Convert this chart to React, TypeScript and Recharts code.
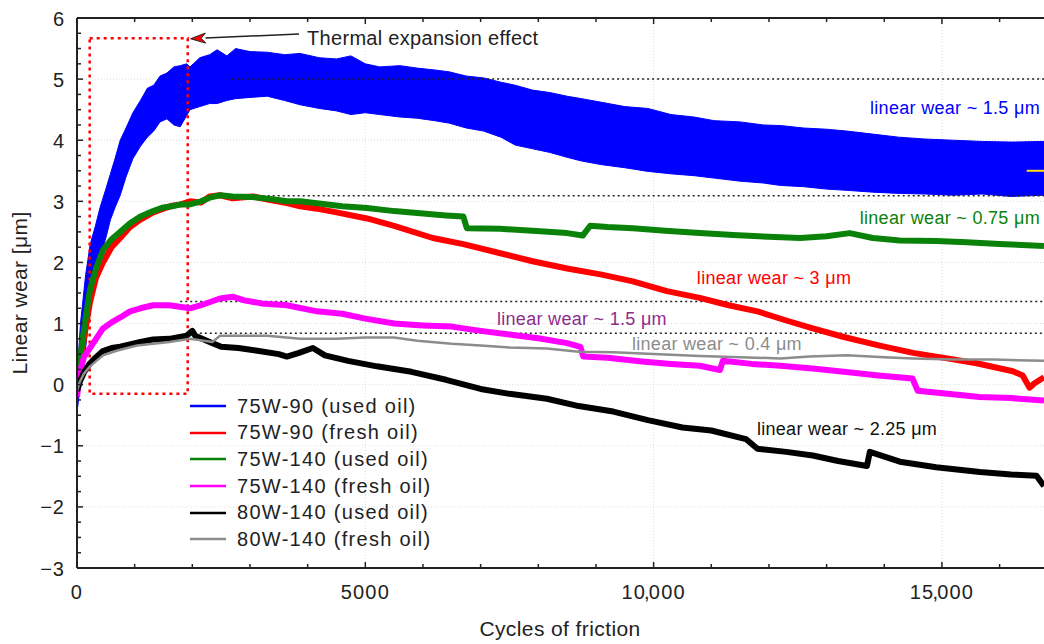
import {
  ComposedChart, Line, Area, XAxis, YAxis, CartesianGrid, Legend,
  ReferenceLine, ReferenceArea, ReferenceDot,
} from 'recharts';

const FONT = '"Liberation Sans", Arial, sans-serif';
const INK = '#222';
const PLOT_H = 550;

// axes
const xMajorTicks = [0, 5000, 10000, 15000];
const xTicks = [0, 1000, 2000, 3000, 4000, 5000, 6000, 7000, 8000, 9000, 10000, 11000, 12000, 13000, 14000, 15000, 16000];
const yMajorTicks = [-3, -2, -1, 0, 1, 2, 3, 4, 5, 6];
const yTicks = [
  -3, -2.75, -2.5, -2.25, -2, -1.75, -1.5, -1.25, -1, -0.75, -0.5, -0.25,
  0, 0.25, 0.5, 0.75, 1, 1.25, 1.5, 1.75, 2, 2.25, 2.5, 2.75,
  3, 3.25, 3.5, 3.75, 4, 4.25, 4.5, 4.75, 5, 5.25, 5.5, 5.75, 6,
];

const seriesNames = [
  '75W-90 (used oil)', '75W-90 (fresh oil)', '75W-140 (used oil)',
  '75W-140 (fresh oil)', '80W-140 (used oil)', '80W-140 (fresh oil)',
];
const seriesColors = ['#0000ff', '#ff0000', '#0a820a', '#ff00ff', '#000000', '#8c8c8c'];

// 75W-90 used oil: wide oscillating band, lower and upper envelope
const blueCycles = [0, 60, 150, 230, 320, 400, 500, 580, 660, 750, 850, 970, 1100, 1220, 1330, 1440, 1560, 1680, 1790, 1900, 1960, 2130, 2300, 2430, 2600, 2750, 3000, 3300, 3600, 3870, 4200, 4500, 4750, 5000, 5250, 5600, 5900, 6200, 6450, 6750, 7050, 7350, 7600, 7900, 8200, 8500, 8750, 9100, 9500, 9900, 10300, 10700, 11050, 11500, 11900, 12200, 12600, 13000, 13350, 13800, 14250, 14700, 15200, 15700, 16200, 16770];
const blueLow = [-0.45, 0.0, 0.6, 1.3, 1.7, 2.1, 2.4, 2.7, 2.9, 3.1, 3.4, 3.7, 3.9, 4.05, 4.15, 4.3, 4.35, 4.25, 4.22, 4.4, 4.5, 4.55, 4.6, 4.6, 4.65, 4.68, 4.7, 4.72, 4.65, 4.58, 4.52, 4.48, 4.42, 4.45, 4.42, 4.38, 4.36, 4.32, 4.28, 4.2, 4.15, 4.05, 3.92, 3.86, 3.8, 3.72, 3.66, 3.6, 3.55, 3.49, 3.45, 3.42, 3.38, 3.33, 3.3, 3.26, 3.24, 3.2, 3.18, 3.15, 3.13, 3.12, 3.1, 3.12, 3.08, 3.1];
const blueHigh = [0.1, 1.0, 1.8, 2.3, 2.6, 2.9, 3.2, 3.45, 3.7, 4.0, 4.2, 4.45, 4.65, 4.85, 4.9, 5.05, 5.1, 5.2, 5.22, 5.25, 5.2, 5.35, 5.4, 5.48, 5.38, 5.5, 5.45, 5.44, 5.4, 5.42, 5.35, 5.33, 5.38, 5.25, 5.2, 5.22, 5.18, 5.15, 5.12, 5.05, 5.02, 4.95, 4.9, 4.82, 4.78, 4.72, 4.68, 4.62, 4.55, 4.52, 4.42, 4.38, 4.32, 4.3, 4.25, 4.24, 4.2, 4.18, 4.15, 4.1, 4.05, 4.02, 4.0, 3.98, 3.97, 3.98];

// 75W-90 fresh oil
const redCycles = [0, 50, 120, 225, 330, 450, 600, 750, 920, 1100, 1320, 1500, 1650, 1800, 1960, 2150, 2300, 2480, 2700, 3050, 3350, 3640, 3870, 4160, 4500, 5030, 5500, 6170, 6700, 7340, 7900, 8500, 9100, 9640, 10230, 10800, 11300, 11800, 12300, 12760, 13300, 13920, 14500, 15090, 15600, 16230, 16400, 16520, 16600, 16770];
const redWear = [0.0, 0.3, 0.75, 1.35, 1.75, 2.0, 2.25, 2.4, 2.58, 2.7, 2.82, 2.88, 2.93, 2.95, 3.0, 2.98, 3.08, 3.1, 3.05, 3.08, 3.02, 2.97, 2.92, 2.88, 2.82, 2.72, 2.6, 2.4, 2.3, 2.15, 2.02, 1.9, 1.8, 1.69, 1.53, 1.42, 1.3, 1.2, 1.05, 0.92, 0.78, 0.64, 0.52, 0.43, 0.35, 0.22, 0.15, -0.05, 0.02, 0.12];

// 75W-140 used oil
const greenCycles = [0, 50, 120, 225, 330, 450, 600, 750, 920, 1100, 1320, 1500, 1650, 1800, 1960, 2150, 2300, 2480, 2700, 3050, 3350, 3640, 3870, 4160, 4600, 5030, 5500, 6000, 6400, 6700, 6760, 7340, 7900, 8500, 8770, 8900, 9200, 9640, 10200, 10800, 11380, 12000, 12540, 13000, 13400, 13800, 14270, 14900, 15430, 16000, 16770];
const greenWear = [0.0, 0.4, 0.9, 1.55, 1.9, 2.2, 2.38, 2.5, 2.64, 2.75, 2.84, 2.9, 2.92, 2.95, 2.95, 3.0, 3.06, 3.1, 3.08, 3.07, 3.04, 3.0, 3.0, 2.97, 2.92, 2.89, 2.84, 2.8, 2.77, 2.75, 2.56, 2.55, 2.52, 2.48, 2.44, 2.6, 2.58, 2.56, 2.52, 2.48, 2.45, 2.42, 2.4, 2.43, 2.48, 2.4, 2.36, 2.35, 2.33, 2.3, 2.27];

// 75W-140 fresh oil
const magentaCycles = [0, 50, 120, 225, 330, 450, 600, 750, 920, 1100, 1320, 1600, 1960, 2150, 2480, 2700, 2900, 3200, 3640, 4160, 4600, 5000, 5500, 6000, 6500, 7000, 7500, 8000, 8500, 8730, 8780, 9200, 9800, 10300, 10800, 11150, 11200, 11700, 12200, 12800, 13300, 13900, 14490, 14580, 15100, 15650, 16200, 16770];
const magentaWear = [-0.2, 0.2, 0.45, 0.6, 0.75, 0.92, 1.02, 1.1, 1.2, 1.25, 1.3, 1.3, 1.25, 1.3, 1.41, 1.44, 1.38, 1.33, 1.3, 1.2, 1.16, 1.08, 1.0, 0.97, 0.95, 0.88, 0.82, 0.76, 0.68, 0.62, 0.46, 0.44, 0.38, 0.34, 0.31, 0.24, 0.39, 0.34, 0.31, 0.26, 0.21, 0.15, 0.1, -0.1, -0.15, -0.2, -0.22, -0.26];

// 80W-140 used oil
const blackCycles = [0, 50, 120, 225, 330, 450, 600, 750, 920, 1100, 1320, 1600, 1900, 2000, 2050, 2300, 2500, 2800, 3100, 3500, 3640, 3850, 4090, 4300, 4700, 5200, 5800, 6400, 7000, 7500, 8150, 8700, 9300, 9900, 10500, 11000, 11600, 11800, 12300, 12760, 13200, 13700, 13750, 14270, 14900, 15660, 16200, 16640, 16770];
const blackWear = [-0.1, 0.05, 0.2, 0.35, 0.45, 0.55, 0.6, 0.62, 0.66, 0.7, 0.74, 0.75, 0.8, 0.88, 0.8, 0.7, 0.62, 0.6, 0.56, 0.5, 0.46, 0.52, 0.6, 0.48, 0.39, 0.3, 0.21, 0.08, -0.07, -0.15, -0.23, -0.35, -0.44, -0.58, -0.7, -0.75, -0.89, -1.05, -1.1, -1.16, -1.25, -1.33, -1.1, -1.26, -1.35, -1.43, -1.47, -1.49, -1.66];

// 80W-140 fresh oil
const grayCycles = [0, 50, 120, 225, 450, 700, 1040, 1600, 1960, 2350, 2480, 3300, 3870, 4500, 5000, 5500, 5900, 6500, 7000, 7500, 8150, 8700, 9300, 10000, 10800, 11500, 12200, 12700, 13350, 14000, 14500, 15200, 15900, 16770];
const grayWear = [-0.1, 0.05, 0.18, 0.3, 0.48, 0.56, 0.64, 0.7, 0.75, 0.7, 0.8, 0.8, 0.75, 0.75, 0.77, 0.77, 0.72, 0.67, 0.64, 0.61, 0.59, 0.54, 0.53, 0.5, 0.47, 0.45, 0.43, 0.46, 0.48, 0.45, 0.43, 0.41, 0.41, 0.39];

// dotted wear levels: level and cycle where it starts
const levelValues = [5.0, 3.09, 1.36, 0.84];
const levelStarts = [2690, 2700, 1790, 2130];

const notes = [
  { text: 'linear wear ~ 1.5 μm', x: 16700, y: 4.52, color: '#0000ff', anchor: 'end' },
  { text: 'linear wear ~ 0.75 μm', x: 16700, y: 2.72, color: '#0a820a', anchor: 'end' },
  { text: 'linear wear ~ 3 μm', x: 10750, y: 1.74, color: '#ff0000', anchor: 'start' },
  { text: 'linear wear ~ 1.5 μm', x: 7283, y: 1.08, color: '#8e2c8e', anchor: 'start' },
  { text: 'linear wear ~ 0.4 μm', x: 9624, y: 0.67, color: '#8c8c8c', anchor: 'start' },
  { text: 'linear wear ~ 2.25 μm', x: 11791, y: -0.72, color: '#111', anchor: 'start' },
];

const toPoints = (cycles: number[], wear: number[]) => cycles.map((c, i) => ({ c, w: wear[i] }));
const blueData = blueCycles.map((c, i) => ({ c, band: [blueLow[i], blueHigh[i]] }));
const lineData = [
  toPoints(redCycles, redWear),
  toPoints(greenCycles, greenWear),
  toPoints(magentaCycles, magentaWear),
  toPoints(blackCycles, blackWear),
  toPoints(grayCycles, grayWear),
];
const lineWidths = [6, 6, 6, 6, 2.5];

const fmtY = (v: number) => (v < 0 ? `\u2212${-v}` : `${v}`);

function XTick(props: any) {
  const { x, y, payload } = props;
  const major = xMajorTicks.includes(payload.value);
  const len = major ? 6 : 4;
  let label: any = null;
  if (major) {
    const v = payload.value;
    label = v >= 10000 ? (
      <>
        <tspan>{String(Math.floor(v / 1000))}</tspan>
        <tspan dx={-2}>,</tspan>
        <tspan dx={-2}>000</tspan>
      </>
    ) : String(v);
  }
  return (
    <g>
      <line x1={x} y1={y} x2={x} y2={y - len} stroke={INK} strokeWidth={1.5} />
      <line x1={x} y1={y - PLOT_H} x2={x} y2={y - PLOT_H + len} stroke={INK} strokeWidth={1.5} />
      {major && (
        <text x={x} y={y + 31} textAnchor="middle" fontSize={20} letterSpacing={1.2} fill={INK} fontFamily={FONT}>
          {label}
        </text>
      )}
    </g>
  );
}

function YTick(props: any) {
  const { x, y, payload } = props;
  const major = yMajorTicks.includes(payload.value);
  return (
    <g>
      <line x1={x} y1={y} x2={x + (major ? 6 : 4)} y2={y} stroke={INK} strokeWidth={1.5} />
      {major && (
        <text x={x - 12} y={y + 7.5} textAnchor="end" fontSize={20} letterSpacing={1} fill={INK} fontFamily={FONT}>
          {fmtY(payload.value)}
        </text>
      )}
    </g>
  );
}

function renderLegend(props: any) {
  const items = [...props.payload].sort(
    (a: any, b: any) => seriesNames.indexOf(a.value) - seriesNames.indexOf(b.value),
  );
  return (
    <div style={{ fontFamily: FONT, fontSize: 20, color: INK }}>
      {items.map((p: any) => (
        <div key={p.value} style={{ display: 'flex', alignItems: 'center', height: 26.6 }}>
          <svg width={36} height={4}>
            <line x1={0} y1={2} x2={36} y2={2} stroke={p.color} strokeWidth={2.5} />
          </svg>
          <span style={{ marginLeft: 11, letterSpacing: 1.3, whiteSpace: 'nowrap' }}>{p.value}</span>
        </div>
      ))}
    </div>
  );
}

function Arrow(props: any) {
  const { x1, y1, x2, y2 } = props;
  const ang = Math.atan2(y2 - y1, x2 - x1);
  const L = 15;
  const W = 5;
  const bx = x2 - L * Math.cos(ang);
  const by = y2 - L * Math.sin(ang);
  const nx = -Math.sin(ang) * W;
  const ny = Math.cos(ang) * W;
  return (
    <g>
      <line x1={x1} y1={y1} x2={bx} y2={by} stroke={INK} strokeWidth={1.5} />
      <polygon
        points={`${x2},${y2} ${bx + nx},${by + ny} ${bx + L * 0.3 * Math.cos(ang)},${by + L * 0.3 * Math.sin(ang)} ${bx - nx},${by - ny}`}
        fill="#ff0000"
        stroke={INK}
        strokeWidth={1}
      />
    </g>
  );
}

export default function App() {
  return (
    <div style={{ position: 'absolute', left: 0, top: 0, width: 1044, height: 644, overflow: 'hidden', background: '#fff' }}>
      <ComposedChart width={1044} height={644} margin={{ top: 18, right: 0, bottom: 0, left: 0 }}>
        <CartesianGrid
          stroke="#dcdcdc"
          strokeDasharray="1 2"
          horizontalValues={yMajorTicks}
          verticalValues={xMajorTicks}
        />
        <XAxis
          type="number"
          dataKey="c"
          domain={[0, 16770]}
          allowDataOverflow
          ticks={xTicks}
          interval={0}
          tickSize={0}
          tickMargin={0}
          tickLine={false}
          tick={<XTick />}
          height={76}
          axisLine={{ stroke: INK, strokeWidth: 2 }}
          label={{
            content: () => (
              <text x={560} y={636} textAnchor="middle" fontSize={21} letterSpacing={0.4} fill={INK} fontFamily={FONT}>
                Cycles of friction
              </text>
            ),
          }}
        />
        <YAxis
          type="number"
          domain={[-3, 6]}
          allowDataOverflow
          ticks={yTicks}
          interval={0}
          tickSize={0}
          tickMargin={0}
          tickLine={false}
          tick={<YTick />}
          width={77}
          axisLine={{ stroke: INK, strokeWidth: 2 }}
          label={{
            content: () => (
              <text x={0} y={0} transform="translate(27, 293) rotate(-90)" textAnchor="middle" fontSize={21} letterSpacing={0.4} fill={INK} fontFamily={FONT}>
                Linear wear [μm]
              </text>
            ),
          }}
        />
        <ReferenceLine y={6} stroke={INK} strokeWidth={2} />

        {levelValues.map((v, i) => (
          <ReferenceLine
            key={`lvl-${i}`}
            segment={[{ x: levelStarts[i], y: v }, { x: 16770, y: v }]}
            stroke={INK}
            strokeWidth={1.5}
            strokeDasharray="2 3"
          />
        ))}

        <Area
          data={blueData}
          dataKey="band"
          name={seriesNames[0]}
          type="linear"
          stroke={seriesColors[0]}
          strokeWidth={1}
          fill={seriesColors[0]}
          fillOpacity={1}
          dot={false}
          activeDot={false}
          isAnimationActive={false}
        />
        {lineData.map((d, i) => (
          <Line
            key={seriesNames[i + 1]}
            data={d}
            dataKey="w"
            name={seriesNames[i + 1]}
            type="linear"
            stroke={seriesColors[i + 1]}
            strokeWidth={lineWidths[i]}
            strokeLinejoin="round"
            dot={false}
            activeDot={false}
            isAnimationActive={false}
          />
        ))}

        <ReferenceLine
          segment={[{ x: 16470, y: 3.5 }, { x: 16770, y: 3.5 }]}
          stroke="#ffe000"
          strokeWidth={2}
        />
        <ReferenceArea
          x1={220}
          x2={1920}
          y1={-0.15}
          y2={5.67}
          fill="none"
          stroke="#ff0000"
          strokeWidth={2.5}
          strokeDasharray="3 4"
        />
        <ReferenceLine
          segment={[{ x: 3850, y: 5.74 }, { x: 1970, y: 5.66 }]}
          shape={(p: any) => <Arrow {...p} />}
        />
        <ReferenceDot
          x={3990}
          y={5.67}
          r={0}
          shape={(p: any) => (
            <text x={p.cx} y={p.cy + 7} fontSize={20} letterSpacing={0.3} fill={INK} fontFamily={FONT}>
              Thermal expansion effect
            </text>
          )}
        />
        {notes.map((n, i) => (
          <ReferenceDot
            key={`note-${i}`}
            x={n.x}
            y={n.y}
            r={0}
            shape={(p: any) => (
              <text x={p.cx} y={p.cy + 6} textAnchor={n.anchor as any} fontSize={18} letterSpacing={0.3} fill={n.color} fontFamily={FONT}>
                {n.text}
              </text>
            )}
          />
        ))}

        <Legend
          layout="vertical"
          align="center"
          verticalAlign="middle"
          content={renderLegend}
          wrapperStyle={{ left: 190, top: 393, width: 'auto' }}
        />
      </ComposedChart>
    </div>
  );
}
